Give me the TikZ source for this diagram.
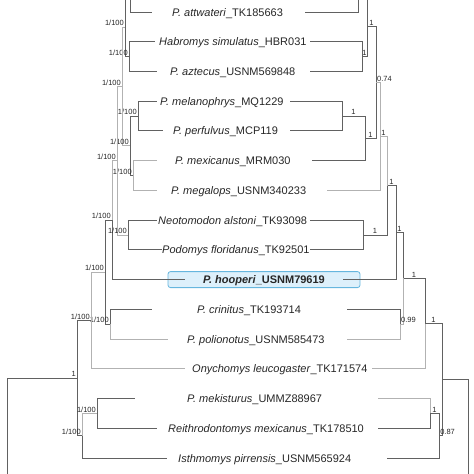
\documentclass[tikz,border=0pt]{standalone}
\usepackage{fontspec}
\setmainfont{Liberation Sans}
\usepackage{tikz}
\definecolor{boxfill}{HTML}{DDF0FB}
\definecolor{boxline}{HTML}{66B6DE}

\begin{document}
\begin{tikzpicture}[x=1pt,y=-1pt]
	\tikzset{elbow/.style={to path={|- (\tikztotarget) \tikztonodes}},
		br/.style={draw=black!62,line width=0.9pt},
		brl/.style={draw=black!30,line width=0.8pt},
		sup/.style={font=\fontsize{7.5}{8}\selectfont,text=black!85,inner sep=0.8pt},
		lsup/.style={sup,pos=1,anchor=south east},
		rsup/.style={sup,pos=0.75,anchor=south},
		rsupw/.style={sup,pos=1,anchor=south west},
		taxon/.style={anchor=base west,inner sep=0pt,font=\fontsize{11}{13}\selectfont,text=black!85}}
	\useasboundingbox (0,0) rectangle (474,474);
	\clip (0,0) rectangle (474,474);

	\node (hoobox) at (264,279.6) [draw=boxline,fill=boxfill,rounded corners=2.5pt,line width=0.8pt,minimum width=192pt,minimum height=16pt] {};

	\coordinate (lt0) at (152,-17.7);
	\coordinate (lt1) at (152,12);
	\coordinate (lt2) at (155,41.7);
	\coordinate (lt3) at (157,71.5);
	\coordinate (lt4) at (157,101.2);
	\coordinate (lt5) at (163,130.9);
	\coordinate (lt6) at (157,160.7);
	\coordinate (lt7) at (157,190.4);
	\coordinate (lt8) at (157,220.1);
	\coordinate (lt9) at (162,249.8);
	\coordinate (lt10) at (185,279.6);
	\coordinate (lt11) at (152,309.3);
	\coordinate (lt12) at (168,339);
	\coordinate (lt13) at (185,368.8);
	\coordinate (lt14) at (135,398.5);
	\coordinate (lt15) at (157,428.2);
	\coordinate (lt16) at (167,458);

	\coordinate (lA) at (130,-2.85);
	\coordinate (lB) at (129,56.6);
	\coordinate (lC) at (125,26.9);
	\coordinate (lD) at (138,116.05);
	\coordinate (lE) at (133,175.55);
	\coordinate (lF) at (130,145.8);
	\coordinate (lG) at (122,86.35);
	\coordinate (lH) at (128,234.95);
	\coordinate (lI) at (117,160.65);
	\coordinate (lJ) at (112,220.1);
	\coordinate (lK) at (110,324.15);
	\coordinate (lL) at (105,272.1);
	\coordinate (lM) at (91,320.45);
	\coordinate (lN) at (97,413.35);
	\coordinate (lO) at (82,435.7);
	\coordinate (lP) at (77,378.1);
	\coordinate (lR) at (7,490);

	\coordinate (rt0) at (305,-17.7);
	\coordinate (rt1) at (305,12);
	\coordinate (rt2) at (310,41.7);
	\coordinate (rt3) at (310,71.5);
	\coordinate (rt4) at (290,101.2);
	\coordinate (rt5) at (290,130.9);
	\coordinate (rt6) at (312,160.7);
	\coordinate (rt7) at (327,190.4);
	\coordinate (rt8) at (310,220.1);
	\coordinate (rt9) at (310,249.8);
	\coordinate (rt10) at (343,279.6);
	\coordinate (rt11) at (347,309.3);
	\coordinate (rt12) at (347,339);
	\coordinate (rt13) at (372,368.8);
	\coordinate (rt14) at (378,398.5);
	\coordinate (rt15) at (378,428.2);
	\coordinate (rt16) at (387,458);

	\coordinate (ra) at (358,-2.85);
	\coordinate (rb) at (362,56.6);
	\coordinate (rc) at (367,26.9);
	\coordinate (rd) at (342,116.05);
	\coordinate (re) at (365,138.4);
	\coordinate (rf) at (376,82.65);
	\coordinate (rg) at (380,136.5);
	\coordinate (rh) at (363,234.95);
	\coordinate (ri) at (387,185.7);
	\coordinate (rj) at (396,232.65);
	\coordinate (rk) at (400,324.15);
	\coordinate (rl) at (403,278.4);
	\coordinate (rm) at (425,323.6);
	\coordinate (rn) at (430,413.35);
	\coordinate (ro) at (439,435.7);
	\coordinate (rp) at (442,379.65);
	\coordinate (rq) at (468,490);

	\path[br]
	(lA) edge [elbow] (lt0)
	(lA) edge [elbow] (lt1)
	(lC) edge [elbow] (lA)
	(lC) edge [elbow] node[lsup] {1/100} (lB)
	(lB) edge [elbow] (lt2)
	(lB) edge [elbow] (lt3)
	(lF) edge [elbow] node[lsup] {1/100} (lD)
	(lF) edge [elbow] node[lsup] {1/100} (lE)
	(lD) edge [elbow] (lt4)
	(lD) edge [elbow] (lt5)
	(lH) edge [elbow] (lt8)
	(lH) edge [elbow] (lt9)
	(lJ) edge [elbow] (lt10)
	(lL) edge [elbow] node[lsup] {1/100} (lJ)
	(lL) edge [elbow] node[lsup] {1/100} (lK)
	(lK) edge [elbow] (lt11)
	(lP) edge [elbow] node[lsup] {1/100} (lM)
	(lP) edge [elbow] node[lsup] {1/100} (lO)
	(lN) edge [elbow] (lt14)
	(lN) edge [elbow] (lt15)
	(lO) edge [elbow] (lt16)
	(lR) edge [elbow] node[lsup] {1} (lP);
	\path[brl]
	(lG) edge [elbow] node[lsup] {1/100} (lC)
	(lG) edge [elbow] node[lsup] {1/100} (lF)
	(lI) edge [elbow] node[lsup] {1/100} (lG)
	(lI) edge [elbow] node[lsup] {1/100} (lH)
	(lJ) edge [elbow] node[lsup] {1/100} (lI)
	(lE) edge [elbow] (lt6)
	(lE) edge [elbow] (lt7)
	(lK) edge [elbow] (lt12)
	(lM) edge [elbow] node[lsup] {1/100} (lL)
	(lM) edge [elbow] (lt13)
	(lO) edge [elbow] node[lsup] {1/100} (lN);

	\path[br]
	(ra) edge [elbow] (rt0)
	(ra) edge [elbow] (rt1)
	(rc) edge [elbow] (ra)
	(rc) edge [elbow] node[rsup] {1} (rb)
	(rb) edge [elbow] (rt2)
	(rb) edge [elbow] (rt3)
	(rf) edge [elbow] node[rsup] {1} (rc)
	(rf) edge [elbow] node[rsup] {1} (re)
	(re) edge [elbow] node[rsup] {1} (rd)
	(re) edge [elbow] (rt6)
	(rd) edge [elbow] (rt4)
	(rd) edge [elbow] (rt5)
	(ri) edge [elbow] node[rsup] {1} (rh)
	(rh) edge [elbow] (rt8)
	(rh) edge [elbow] (rt9)
	(rj) edge [elbow] node[rsup] {1} (ri)
	(rj) edge [elbow] (rt10)
	(rl) edge [elbow] node[rsup] {1} (rj)
	(rk) edge [elbow] (rt11)
	(rm) edge [elbow] node[rsup] {1} (rl)
	(rp) edge [elbow] node[rsup] {1} (rm)
	(rp) edge [elbow] node[rsupw] {0.87} (ro)
	(ro) edge [elbow] node[rsup] {1} (rn)
	(ro) edge [elbow] (rt16)
	(rn) edge [elbow] (rt15)
	(rq) edge [elbow] (rp);
	\path[brl]
	(rg) edge [elbow] node[rsupw] {0.74} (rf)
	(rg) edge [elbow] (rt7)
	(ri) edge [elbow] node[rsup] {1} (rg)
	(rl) edge [elbow] node[rsupw] {0.99} (rk)
	(rk) edge [elbow] (rt12)
	(rm) edge [elbow] (rt13)
	(rn) edge [elbow] (rt14);

	\node (t1) at (172,16) [taxon] {\textit{P. attwateri}\_TK185663};
	\node (t2) at (159,45.7) [taxon] {\textit{Habromys simulatus}\_HBR031};
	\node (t3) at (170,75.5) [taxon] {\textit{P. aztecus}\_USNM569848};
	\node (t4) at (160,105.2) [taxon] {\textit{P. melanophrys}\_MQ1229};
	\node (t5) at (173,134.9) [taxon] {\textit{P. perfulvus}\_MCP119};
	\node (t6) at (175,164.7) [taxon] {\textit{P. mexicanus}\_MRM030};
	\node (t7) at (171,194.4) [taxon] {\textit{P. megalops}\_USNM340233};
	\node (t8) at (158,224.1) [taxon] {\textit{Neotomodon alstoni}\_TK93098};
	\node (t9) at (162,253.8) [taxon] {\textit{Podomys floridanus}\_TK92501};
	\node (t10) at (203,283.6) [taxon] {\textbf{\textit{P. hooperi}\_USNM79619}};
	\node (t11) at (197,313.3) [taxon] {\textit{P. crinitus}\_TK193714};
	\node (t12) at (187,343) [taxon] {\textit{P. polionotus}\_USNM585473};
	\node (t13) at (192,372.8) [taxon] {\textit{Onychomys leucogaster}\_TK171574};
	\node (t14) at (187,402.5) [taxon] {\textit{P. mekisturus}\_UMMZ88967};
	\node (t15) at (168,432.2) [taxon] {\textit{Reithrodontomys mexicanus}\_TK178510};
	\node (t16) at (178,462) [taxon] {\textit{Isthmomys pirrensis}\_USNM565924};
\end{tikzpicture}
\end{document}
